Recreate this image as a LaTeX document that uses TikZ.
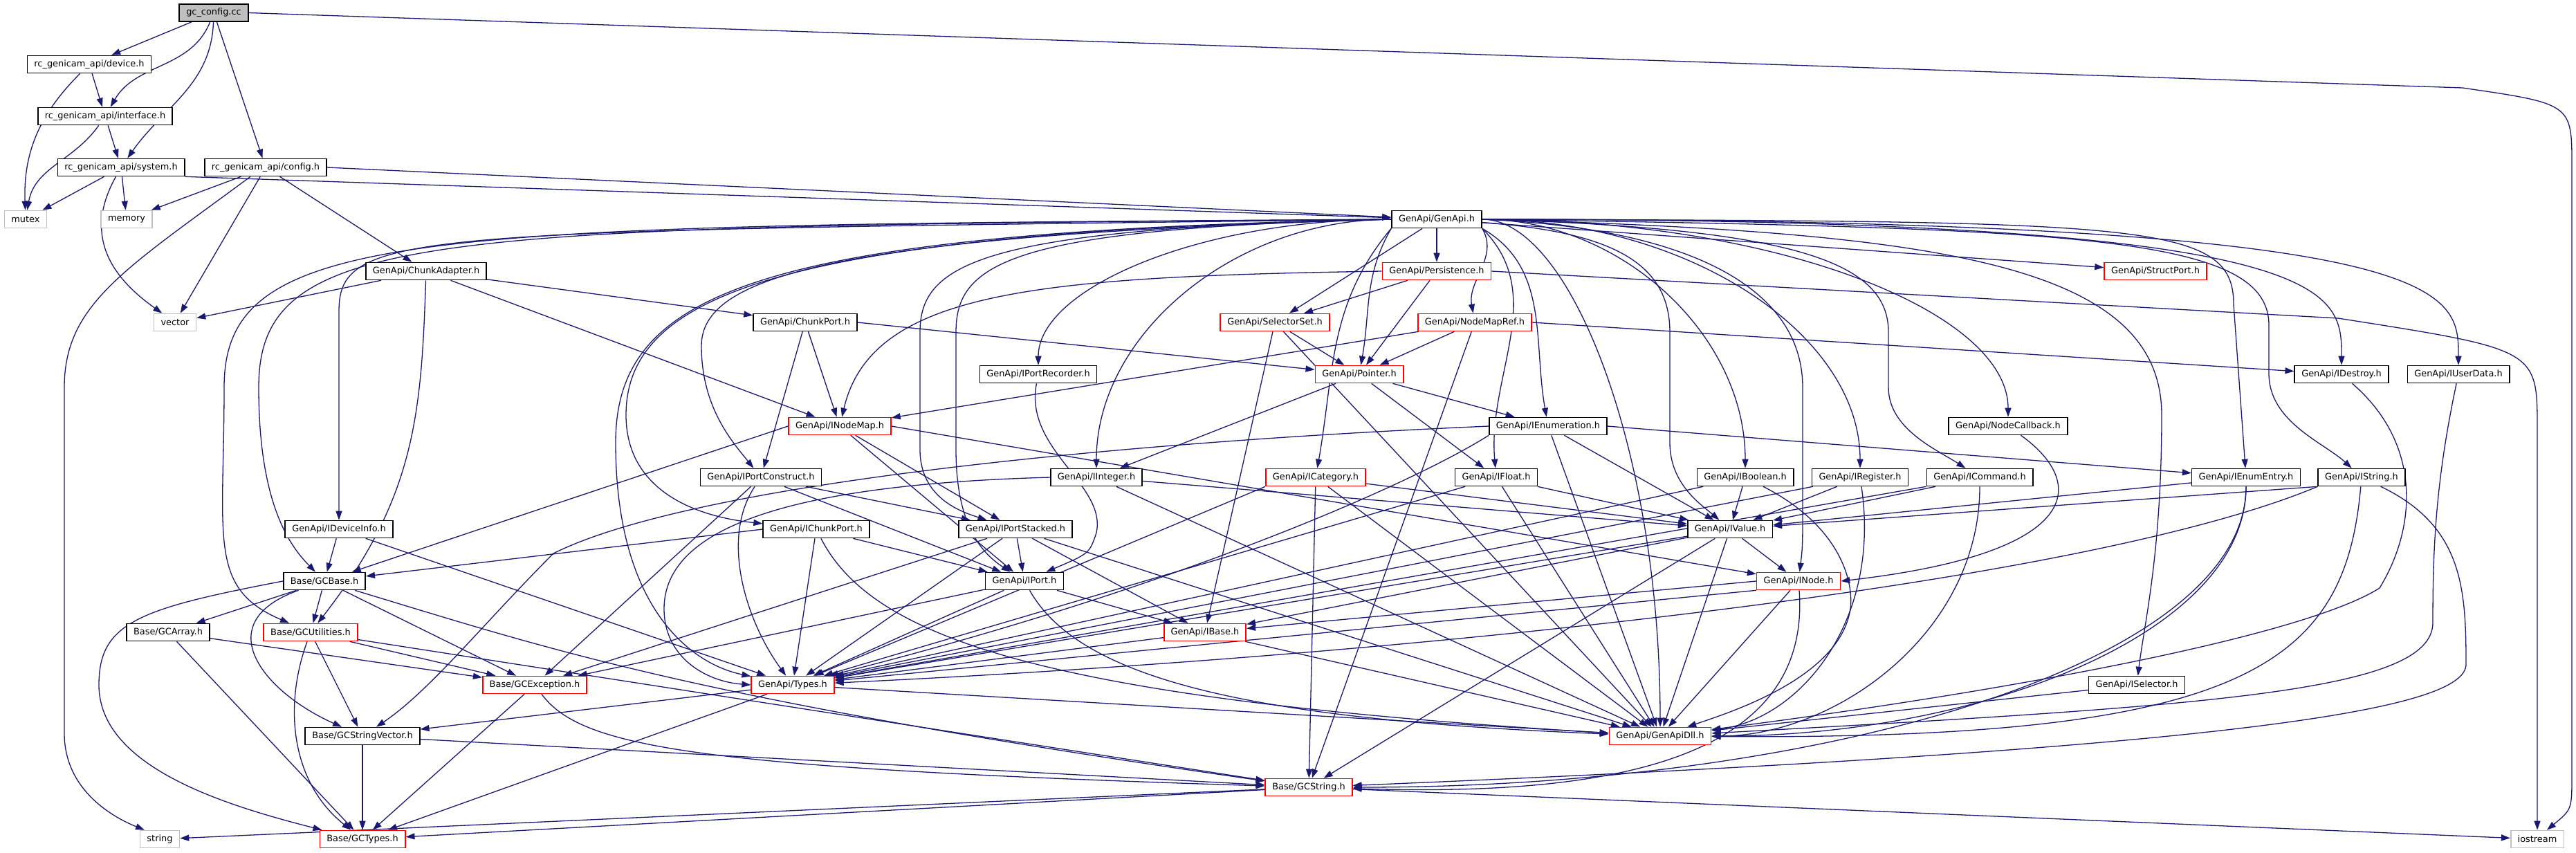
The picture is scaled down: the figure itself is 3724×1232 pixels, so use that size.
\documentclass[tikz,border=0pt]{standalone}
\usepackage{fontspec}
\setmainfont{DejaVu Sans}
\usepackage{tikz}
\usetikzlibrary{arrows.meta,calc,backgrounds}
\definecolor{Edge}{HTML}{191970}
\definecolor{Trunc}{HTML}{FF0000}
\definecolor{Ext}{HTML}{BFBFBF}
\tikzset{
  hdr/.style={draw=black,line width=1.6pt,fill=white,minimum height=25pt,inner xsep=10pt,inner ysep=0pt,font=\fontsize{12.9}{15}\selectfont},
  trunc/.style={hdr,draw=Trunc},
  ext/.style={hdr,draw=Ext},
  root/.style={hdr,fill=Ext},
  dep/.style={draw=Edge,line width=1.3pt,-{Triangle[length=13pt,width=9pt]}},
  fan/.style={to path={.. controls ($(\tikztostart)!#1!(\tikztotarget |- \tikztostart)$) and ($(\tikztotarget)!0.55!(\tikztotarget |- \tikztostart)$) .. (\tikztotarget)}},
  fan/.default=0.6,
  drop/.style={to path={.. controls ($(\tikztostart)!#1!(\tikztostart |- \tikztotarget)$) and ($(\tikztotarget)!0.55!(\tikztostart |- \tikztotarget)$) .. (\tikztotarget)}},
  drop/.default=0.6
}

\begin{document}
\begin{tikzpicture}[x=1pt,y=1pt]
  \useasboundingbox (0,0) rectangle (3724,-1232);
  % headers, one row per rank
  \node[root] (gc) at (309,-18.5) {gc\_config.cc};
  \node[hdr] (device) at (129,-93) {rc\_genicam\_api/device.h};
  \node[hdr] (iface) at (152,-168) {rc\_genicam\_api/interface.h};
  \node[hdr] (system) at (175,-242) {rc\_genicam\_api/system.h};
  \node[hdr] (config) at (384,-242) {rc\_genicam\_api/config.h};
  \node[ext] (mutex) at (37,-317) {mutex};
  \node[ext] (memory) at (183,-317) {memory};
  \node[hdr] (genapi) at (2077,-317) {GenApi/GenApi.h};
  \node[hdr] (chunkadapter) at (616,-392) {GenApi/ChunkAdapter.h};
  \node[trunc] (persistence) at (2077,-392) {GenApi/Persistence.h};
  \node[trunc] (structport) at (3116,-392) {GenApi/StructPort.h};
  \node[ext] (vector) at (253,-466) {vector};
  \node[hdr] (chunkport) at (1164,-466) {GenApi/ChunkPort.h};
  \node[trunc] (selectorset) at (1843,-466) {GenApi/SelectorSet.h};
  \node[trunc] (nodemapref) at (2132,-466) {GenApi/NodeMapRef.h};
  \node[hdr] (portrecorder) at (1501,-541) {GenApi/IPortRecorder.h};
  \node[trunc] (pointer) at (1965,-541) {GenApi/Pointer.h};
  \node[hdr] (idestroy) at (3385,-541) {GenApi/IDestroy.h};
  \node[hdr] (iuserdata) at (3554,-541) {GenApi/IUserData.h};
  \node[trunc] (inodemap) at (1214,-616) {GenApi/INodeMap.h};
  \node[hdr] (ienum) at (2238,-616) {GenApi/IEnumeration.h};
  \node[hdr] (nodecallback) at (2903,-616) {GenApi/NodeCallback.h};
  \node[hdr] (portconstruct) at (1100,-690) {GenApi/IPortConstruct.h};
  \node[hdr] (iinteger) at (1585,-690) {GenApi/IInteger.h};
  \node[trunc] (icategory) at (1902,-690) {GenApi/ICategory.h};
  \node[hdr] (ifloat) at (2163,-690) {GenApi/IFloat.h};
  \node[hdr] (iboolean) at (2523,-690) {GenApi/IBoolean.h};
  \node[hdr] (iregister) at (2689,-690) {GenApi/IRegister.h};
  \node[hdr] (icommand) at (2862,-690) {GenApi/ICommand.h};
  \node[hdr] (ienumentry) at (3247,-690) {GenApi/IEnumEntry.h};
  \node[hdr] (istring) at (3414,-690) {GenApi/IString.h};
  \node[hdr] (ideviceinfo) at (490,-765) {GenApi/IDeviceInfo.h};
  \node[hdr] (ichunkport) at (1180,-765) {GenApi/IChunkPort.h};
  \node[hdr] (portstacked) at (1468,-765) {GenApi/IPortStacked.h};
  \node[hdr] (ivalue) at (2501,-765) {GenApi/IValue.h};
  \node[hdr] (gcbase) at (469,-840) {Base/GCBase.h};
  \node[hdr] (iport) at (1481,-840) {GenApi/IPort.h};
  \node[trunc] (inode) at (2600,-840) {GenApi/INode.h};
  \node[hdr] (gcarray) at (243,-914) {Base/GCArray.h};
  \node[trunc] (gcutil) at (449,-914) {Base/GCUtilities.h};
  \node[trunc] (ibase) at (1742,-914) {GenApi/IBase.h};
  \node[trunc] (gcexcept) at (773,-990) {Base/GCException.h};
  \node[trunc] (types) at (1146,-990) {GenApi/Types.h};
  \node[hdr] (iselector) at (3089,-990) {GenApi/ISelector.h};
  \node[hdr] (gcstrvec) at (524,-1064) {Base/GCStringVector.h};
  \node[trunc] (genapidll) at (2400,-1064) {GenApi/GenApiDll.h};
  \node[trunc] (gcstring) at (1892,-1138) {Base/GCString.h};
  \node[ext] (string) at (231,-1213) {string};
  \node[trunc] (gctypes) at (524,-1213) {Base/GCTypes.h};
  \node[ext] (iostream) at (3668,-1213) {iostream};

  \begin{scope}[on background layer]
  \fill[white] (0,0) rectangle (3724,-1232);
  % rc_genicam_api
  \draw[dep] (gc) -- (device);
  \draw[dep] (gc) to[out=-112,in=60] (iface);
  \draw[dep] (gc) to[out=-92,in=55] (system);
  \draw[dep] (gc) -- (config);
  \draw[dep] (gc.east) -- (3560,-127) .. controls (3718,-150) .. (3718,-240) -- (3718,-1120) .. controls (3718,-1170) .. ($(iostream.north)+(14,0)$);
  \draw[dep] (device) -- (iface);
  \draw[dep] (device) to[out=-135,in=92] (mutex);
  \draw[dep] (iface) -- (system);
  \draw[dep] (iface) to[out=-125,in=80] (mutex);
  \draw[dep] (system) -- (mutex);
  \draw[dep] (system) -- (memory);
  \draw[dep] (system) .. controls (120,-340) and (160,-400) .. (vector);
  \draw[dep] (system.south east) -- (genapi);
  \draw[dep] (config) -- (memory);
  \draw[dep] (config) -- (vector);
  \draw[dep] ($(config.south)+(-22,0)$) .. controls (180,-390) and (93,-440) .. (93,-560) -- (93,-1060) .. controls (93,-1140) and (160,-1180) .. ($(string.north)+(-22,0)$);
  \draw[dep] (config.east) -- (genapi);
  \draw[dep] (config) -- (chunkadapter);
  \draw[dep] (chunkadapter) -- (vector);
  \draw[dep] (chunkadapter) -- (inodemap);
  \draw[dep] (chunkadapter) -- (chunkport);
  \draw[dep] (chunkadapter) .. controls (609,-600) and (600,-720) .. (gcutil);
  % GenApi.h
  \draw[dep] (genapi) -- (persistence);
  \draw[dep] (genapi) -- (structport);
  \draw[dep] (genapi) -- (selectorset);
  \draw[dep] (genapi.south east) to[out=-60,in=100] (nodemapref);
  \draw[dep] (genapi.south west) to[out=-120,in=80] (pointer);
  \draw[dep] (genapi.south east) to[out=-30,in=100] (ienum);
  \draw[dep] (genapi.south east) to[out=-45,in=95] (ifloat);
  \draw[dep] (genapi.south west) to[out=-130,in=80] (icategory);
  \draw[dep] (genapi) to[fan] (portrecorder);
  \draw[dep] (genapi) to[fan] (iinteger);
  \draw[dep] (genapi) to[fan] (iboolean);
  \draw[dep] (genapi) to[fan] (iregister);
  \draw[dep] (genapi) to[fan] (nodecallback);
  \draw[dep] (genapi) to[fan=1] (idestroy);
  \draw[dep] (genapi) to[fan=1] (iuserdata);
  \draw[dep] (genapi) to[fan] (genapidll);
  \draw[dep] (genapi.west) .. controls (600,-326) and (324,-328) .. (324,-560) .. controls (324,-780) and (300,-850) .. (gcutil);
  \draw[dep] (genapi.west) .. controls (620,-328) and (374,-330) .. (374,-560) .. controls (374,-730) and (420,-790) .. (gcbase);
  \draw[dep] (genapi.west) .. controls (600,-335) and (490,-330) .. (490,-450) -- (ideviceinfo);
  \draw[dep] (genapi.west) .. controls (1200,-340) and (1014,-400) .. (1014,-500) .. controls (1014,-590) and (1060,-640) .. (portconstruct);
  \draw[dep] (genapi.west) .. controls (1150,-335) and (905,-420) .. (905,-600) .. controls (905,-700) and (990,-745) .. (ichunkport);
  \draw[dep] (genapi.west) .. controls (1100,-335) and (890,-420) .. (890,-640) .. controls (890,-880) and (1000,-960) .. (types);
  \draw[dep] (genapi.west) .. controls (1420,-330) and (1330,-380) .. (1330,-480) -- (1330,-650) .. controls (1330,-720) and (1390,-740) .. (portstacked);
  \draw[dep] (genapi.west) .. controls (1460,-330) and (1382,-380) .. (1382,-480) -- (1382,-650) .. controls (1382,-760) and (1420,-800) .. (iport);
  \draw[dep] (genapi) .. controls (2330,-335) and (2414,-380) .. (2414,-480) -- (2414,-640) .. controls (2414,-700) and (2460,-730) .. (ivalue);
  \draw[dep] (genapi.east) .. controls (2450,-330) and (2606,-420) .. (2606,-560) -- (2606,-720) .. controls (2606,-790) .. (inode);
  \draw[dep] (genapi.east) .. controls (2600,-330) and (2730,-380) .. (2730,-480) -- (2730,-560) .. controls (2730,-620) and (2800,-650) .. (icommand);
  \draw[dep] (genapi.east) .. controls (2800,-335) and (3125,-380) .. (3125,-600) .. controls (3125,-800) and (3100,-900) .. (iselector);
  \draw[dep] (genapi.east) .. controls (3100,-320) and (3229,-320) .. (3229,-440) -- (ienumentry);
  \draw[dep] (genapi.east) .. controls (3000,-330) and (3280,-340) .. (3280,-470) -- (3280,-540) .. controls (3280,-610) and (3360,-640) .. (istring);
  % second level
  \draw[dep] (persistence) -- (pointer);
  \draw[dep] (persistence) -- (selectorset);
  \draw[dep] (persistence.west) .. controls (1500,-400) and (1260,-420) .. (inodemap);
  \draw[dep] (persistence.east) -- (3380,-460) .. controls (3668,-505) .. (3668,-620) -- (iostream);
  \draw[dep] (chunkport) -- (portconstruct);
  \draw[dep] (chunkport) -- (inodemap);
  \draw[dep] (chunkport.east) -- (pointer);
  \draw[dep] (selectorset) -- (pointer);
  \draw[dep] (selectorset) -- (ibase);
  \draw[dep] (selectorset) -- (genapidll);
  \draw[dep] (nodemapref) -- (pointer);
  \draw[dep] (nodemapref) -- (inodemap);
  \draw[dep] (nodemapref.east) -- (idestroy);
  \draw[dep] (nodemapref) -- (gcstring);
  \draw[dep] (pointer) -- (iinteger);
  \draw[dep] (pointer) -- (ifloat);
  \draw[dep] (pointer) -- (ienum);
  \draw[dep] (portrecorder) .. controls (1480,-650) and (1600,-700) .. (1585,-770) .. controls (1575,-800) .. (iport);
  \draw[dep] (inodemap.west) -- (gcbase);
  \draw[dep] (inodemap) -- (portstacked);
  \draw[dep] (inodemap) -- (iport);
  \draw[dep] (inodemap.east) -- (inode);
  % interfaces
  \draw[dep] (ienum.east) -- (ienumentry);
  \draw[dep] (ienum) -- (ivalue);
  \draw[dep] (ienum) -- (genapidll);
  \draw[dep] (ienum.south west) .. controls (2040,-700) and (1700,-850) .. (types);
  \draw[dep] (ienum.west) .. controls (1600,-640) and (1000,-700) .. (800,-800) .. controls (700,-900) and (620,-1000) .. (gcstrvec);
  \draw[dep] (nodecallback) .. controls (3020,-700) and (3010,-800) .. (inode.east);
  \draw[dep] (portconstruct) -- (portstacked);
  \draw[dep] (portconstruct) -- (iport);
  \draw[dep] (portconstruct) .. controls (1040,-780) and (1080,-900) .. (types);
  \draw[dep] (portconstruct) -- (gcexcept);
  \draw[dep] (iinteger) -- (ivalue);
  \draw[dep] (iinteger.west) .. controls (1150,-700) and (960,-760) .. (960,-880) .. controls (960,-950) and (1020,-985) .. (types.west);
  \draw[dep] (iinteger) -- (genapidll);
  \draw[dep] (icategory) -- (ivalue);
  \draw[dep] (icategory) -- (gcstring);
  \draw[dep] (icategory) -- (genapidll);
  \draw[dep] (icategory.south west) -- (types);
  \draw[dep] (ifloat) -- (ivalue);
  \draw[dep] (ifloat) -- (genapidll);
  \draw[dep] (ifloat) -- (types);
  \draw[dep] (iboolean) -- (ivalue);
  \draw[dep] (iboolean) .. controls (2660,-760) and (2680,-840) .. (2675,-880) .. controls (2660,-980) and (2500,-1030) .. (genapidll);
  \draw[dep] (iboolean) -- (types);
  \draw[dep] (iregister) -- (ivalue);
  \draw[dep] (iregister) .. controls (2720,-900) and (2600,-1040) .. (genapidll);
  \draw[dep] (iregister) -- (types);
  \draw[dep] (icommand) -- (ivalue);
  \draw[dep] (icommand) to[drop] (genapidll);
  \draw[dep] (icommand.south west) -- (types);
  \draw[dep] (ienumentry) -- (ivalue);
  \draw[dep] (ienumentry) to[drop] (genapidll);
  \draw[dep] (ienumentry) to[drop] (gcstring);
  \draw[dep] (istring.south west) -- (ivalue);
  \draw[dep] (istring) .. controls (3390,-960) and (3250,-1070) .. (genapidll);
  \draw[dep] (istring) .. controls (3560,-760) and (3565,-850) .. (3565,-960) .. controls (3565,-1020) and (3300,-1080) .. (gcstring);
  \draw[dep] (istring.south west) .. controls (3000,-850) and (2000,-950) .. (types);
  \draw[dep] (idestroy) .. controls (3500,-640) and (3495,-760) .. (3440,-850) .. controls (3330,-920) and (2900,-1000) .. (genapidll);
  \draw[dep] (iuserdata) .. controls (3520,-700) and (3517,-800) .. (3517,-900) .. controls (3517,-1000) and (3200,-1020) .. (genapidll);
  \draw[dep] (ideviceinfo) -- (gcbase);
  \draw[dep] (ideviceinfo) -- (types);
  \draw[dep] (ichunkport.west) -- (gcbase);
  \draw[dep] (ichunkport) -- (iport);
  \draw[dep] (ichunkport) -- (types);
  \draw[dep] (ichunkport) .. controls (1260,-920) and (1500,-1010) .. (genapidll);
  \draw[dep] (portstacked) -- (iport);
  \draw[dep] (portstacked) -- (gcexcept);
  \draw[dep] (portstacked) -- (types);
  \draw[dep] (portstacked) -- (ibase);
  \draw[dep] (portstacked) -- (genapidll);
  \draw[dep] (ivalue) -- (ibase);
  \draw[dep] (ivalue) -- (inode);
  \draw[dep] (ivalue) -- (genapidll);
  \draw[dep] (ivalue) -- (types);
  \draw[dep] (ivalue) -- (gcstring);
  \draw[dep] (iport) -- (types);
  \draw[dep] (iport) -- (gcexcept);
  \draw[dep] (iport) -- (ibase);
  \draw[dep] (iport) .. controls (1560,-980) and (1800,-1040) .. (genapidll);
  \draw[dep] (inode.west) -- (ibase);
  \draw[dep] (inode.south west) -- (types);
  \draw[dep] (inode) -- (genapidll);
  \draw[dep] (inode) .. controls (2620,-1110) and (2300,-1150) .. (gcstring);
  \draw[dep] (ibase) -- (types);
  \draw[dep] (ibase) -- (genapidll);
  \draw[dep] (iselector) -- (genapidll);
  \draw[dep] (types) -- (genapidll);
  \draw[dep] (types) -- (gctypes);
  \draw[dep] (types) -- (gcstrvec);
  % Base
  \draw[dep] (gcbase) -- (gcarray);
  \draw[dep] (gcbase) -- (gcutil);
  \draw[dep] (gcbase) .. controls (300,-900) and (380,-1000) .. (gcstrvec);
  \draw[dep] (gcbase) -- (gcexcept);
  \draw[dep] (gcbase.west) .. controls (200,-880) and (143,-900) .. (143,-990) .. controls (143,-1110) and (330,-1165) .. ($(gctypes.north west)+(4,0)$);
  \draw[dep] (gcbase) .. controls (800,-940) and (1000,-1010) .. (gcstring);
  \draw[dep] (gcarray) -- (gcexcept);
  \draw[dep] (gcarray) -- (gctypes);
  \draw[dep] (gcutil) -- (gcexcept);
  \draw[dep] (gcutil) -- (gcstrvec);
  \draw[dep] (gcutil) .. controls (410,-1020) and (420,-1130) .. (gctypes);
  \draw[dep] (gcutil) -- (gcstring);
  \draw[dep] (gcexcept) -- (gctypes);
  \draw[dep] (gcexcept) .. controls (840,-1080) and (1000,-1110) .. (gcstring);
  \draw[dep] (gcstrvec) -- (gctypes);
  \draw[dep] (gcstrvec) -- (gcstring);
  \draw[dep] (gcstring) -- (gctypes);
  \draw[dep] (gcstring) -- (string);
  \draw[dep] (gcstring) -- (iostream);
  \end{scope}
\end{tikzpicture}
\end{document}
